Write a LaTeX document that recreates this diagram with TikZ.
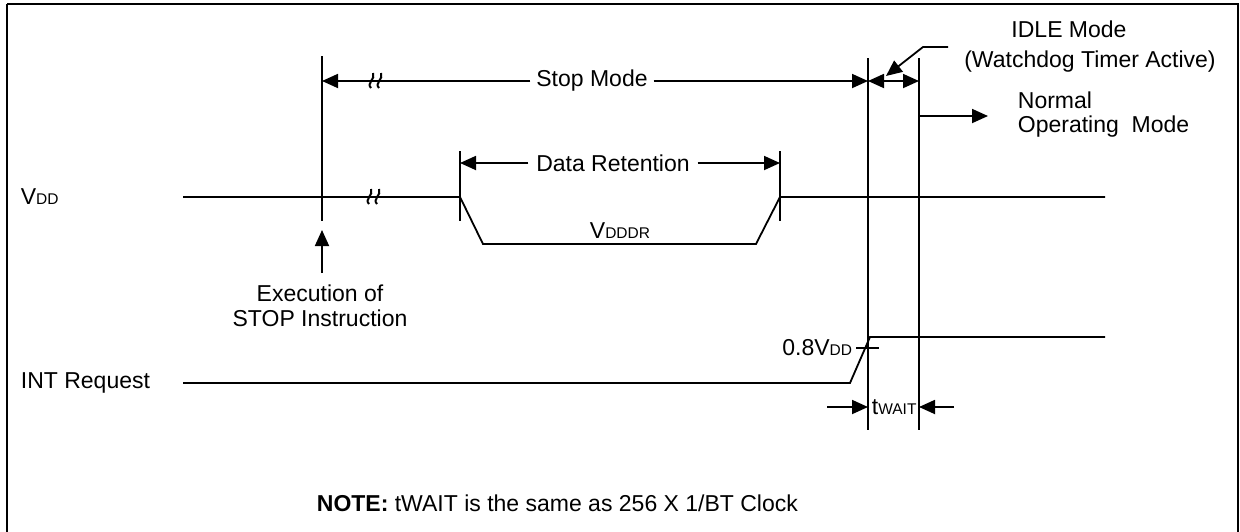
\documentclass[tikz,border=0pt]{standalone}
\usepackage{fontspec}
\setmainfont{Liberation Sans}
\usetikzlibrary{arrows.meta}
\newcommand\smallsub[1]{{\fontsize{15.5}{15.5}\selectfont #1}}
\begin{document}
\begin{tikzpicture}[x=1pt,y=-1pt, line width=1.8pt,
  tip/.style={-{Triangle[length=16pt,width=14pt]}},
  dtip/.style={{Triangle[length=16pt,width=14pt]}-{Triangle[length=16pt,width=14pt]}},
  lbl/.style={font=\fontsize{23}{26}\selectfont, inner sep=0pt},
  squig/.pic={
    \draw[line width=2pt] (-5,7) .. controls (-10,2) and (0,-2) .. (-3,-8);
    \draw[line width=2pt] (3,7) .. controls (-2,2) and (8,-2) .. (5,-8);
  }]
\useasboundingbox (0,0) rectangle (1240,531);
\draw[line width=2.8pt] (7,4) -- (7,535) (7,4) -- (1238,4) -- (1238,535);

% coordinates
\coordinate (l1t) at (322,56);  \coordinate (l1b) at (322,221);
\coordinate (l2t) at (868,58);  \coordinate (l2b) at (868,430);
\coordinate (l3t) at (919,58);  \coordinate (l3b) at (919,430);
\coordinate (drlt) at (460,151); \coordinate (drlb) at (460,221);
\coordinate (drrt) at (780,151); \coordinate (drrb) at (780,221);
\coordinate (sm1) at (322,81); \coordinate (sm2) at (868,81); \coordinate (sm3) at (919,81);
\coordinate (dr1) at (460,163); \coordinate (dr2) at (780,163);
\coordinate (v0) at (183,197); \coordinate (v1) at (460,197); \coordinate (v2) at (483,244);
\coordinate (v3) at (756,244); \coordinate (v4) at (780,197); \coordinate (v5) at (1105,197);
\coordinate (i0) at (183,383); \coordinate (i1) at (850,383); \coordinate (i2) at (870,337);
\coordinate (i3) at (1105,337);
\coordinate (tk1) at (856,348); \coordinate (tk2) at (879,348);
\coordinate (ex0) at (322,273); \coordinate (ex1) at (322,230);
\coordinate (ld0) at (948,47); \coordinate (ld1) at (923,47); \coordinate (ld2) at (886,76);
\coordinate (nm0) at (919,116); \coordinate (nm1) at (988,116);
\coordinate (tw0) at (827,407); \coordinate (tw1) at (868,407);
\coordinate (tw2) at (954,407); \coordinate (tw3) at (919,407);

% labels
\node[lbl, anchor=west] (vdd) at (20,197) {V\smallsub{DD}};
\node[lbl, anchor=west] (int) at (20,383) {INT Request};
\node[lbl] (sm) at (592,81) {Stop Mode};
\node[lbl] (dr) at (613,163) {Data Retention};
\node[lbl, anchor=base] (vddr) at (620,238) {V\smallsub{DDDR}};
\node[lbl] (ex) at (320,293) {Execution of};
\node[lbl] (stop) at (320,318) {STOP Instruction};
\node[lbl] (idle) at (1069,29) {IDLE Mode};
\node[lbl] (wd) at (1090,62) {(Watchdog Timer Active)};
\node[lbl, anchor=west] (norm) at (1017,100) {Normal};
\node[lbl, anchor=west] (op) at (1017,127) {Operating\ \ Mode};
\node[lbl, anchor=east] (p8) at (853,348) {0.8V\smallsub{DD}};
\node[lbl, anchor=west] (tw) at (871,407) {t\smallsub{WAIT}};
\node[lbl, anchor=west] (note) at (316,503) {\textbf{NOTE:} tWAIT is the same as 256 X 1/BT Clock};

% vertical markers
\draw (l1t) -- (l1b);
\draw (l2t) -- (l2b);
\draw (l3t) -- (l3b);
\draw (drlt) -- (drlb);
\draw (drrt) -- (drrb);

% Stop mode
\draw[tip] ([xshift=-5pt]sm.west) -- (sm1);
\draw[tip] ([xshift=5pt]sm.east) -- (sm2);
\draw[dtip] (sm2) -- (sm3);
\pic at (376,81) {squig};

% Data retention
\draw[tip] ([xshift=-7pt]dr.west) -- (dr1);
\draw[tip] ([xshift=7pt]dr.east) -- (dr2);

% VDD waveform
\draw (v0) -- (v1) -- (v2) -- (v3) -- (v4) -- (v5);
\pic at (374,197) {squig};

% INT waveform
\draw (i0) -- (i1) -- (i2) -- (i3);
\draw (tk1) -- (tk2);

% execution arrow
\draw[tip] (ex0) -- (ex1);

% idle leader
\draw[tip] (ld0) -- (ld1) -- (ld2);

% normal mode arrow
\draw[tip] (nm0) -- (nm1);

% twait arrows
\draw[tip] (tw0) -- (tw1);
\draw[tip] (tw2) -- (tw3);
\end{tikzpicture}
\end{document}
